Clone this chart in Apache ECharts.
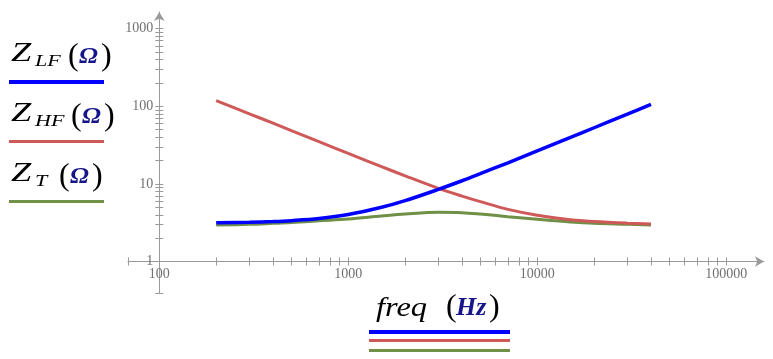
<!DOCTYPE html>
<html><head><meta charset="utf-8">
<script src="https://cdn.jsdelivr.net/npm/echarts@6/dist/echarts.min.js"></script>
<style>html,body{margin:0;padding:0;background:#fff}#c{width:773px;height:359px}</style>
</head><body><div id="c"></div>
<script>
// ---- data ----
const freq = [200, 300, 400, 500, 700, 1000, 1500, 2000, 3000, 4000, 5000, 7000, 10000, 15000, 20000, 30000, 40000];
const zLF  = [3.15, 3.2, 3.27, 3.36, 3.58, 4.03, 4.99, 6.08, 8.5, 10.98, 13.55, 18.72, 26.6, 39.7, 52.9, 79.2, 105.6];
const zHF  = [118, 80, 60.5, 48.6, 35, 24.7, 16.7, 12.7, 8.75, 6.95, 5.9, 4.7, 3.95, 3.45, 3.27, 3.12, 3.05];
const zT   = [2.95, 3.01, 3.1, 3.18, 3.35, 3.53, 3.86, 4.09, 4.3, 4.26, 4.09, 3.78, 3.5, 3.23, 3.1, 3.01, 2.95];
const xTickValues = [100, 200, 300, 400, 500, 600, 700, 800, 900, 1000, 2000, 3000, 4000, 5000, 6000, 7000, 8000, 9000, 10000, 20000, 30000, 40000, 50000, 60000, 70000, 80000, 90000, 100000];
const yTickValues = [1, 2, 3, 4, 5, 6, 7, 8, 9, 10, 20, 30, 40, 50, 60, 70, 80, 90, 100, 200, 300, 400, 500, 600, 700, 800, 900, 1000];
const xLabelValues = [100, 1000, 10000, 100000];
const yLabelValues = [1, 10, 100, 1000];
const xMin = 68.31, xMax = 158489;
const yMin = 0.3926, yMax = 1641;

const AX = '#9a9a9a';
const labelStyle = {fontFamily: 'Liberation Serif', fontSize: 14, color: '#707070'};
const fmt = v => String(Math.round(v));

function xAx(primary) {
  return {
    type: 'log', logBase: 10, gridIndex: 0, position: 'bottom', offset: -31.5,
    min: xMin, max: xMax,
    axisLine: primary ? {show: true, onZero: false, symbol: ['none', 'arrow'], symbolSize: [8, 9], lineStyle: {color: AX, width: 1}} : {show: false, onZero: false},
    axisTick: {show: true, inside: !primary, length: 4, customValues: [xMin].concat(xTickValues), lineStyle: {color: AX, width: 1}},
    minorTick: {show: false},
    axisLabel: primary ? Object.assign({show: true, customValues: xLabelValues, formatter: fmt, margin: 6}, labelStyle) : {show: false},
    splitLine: {show: false}
  };
}
function yAx(primary) {
  return {
    type: 'log', logBase: 10, gridIndex: 0, position: 'left', offset: -31.3,
    min: yMin, max: yMax,
    axisLine: primary ? {show: true, onZero: false, symbol: ['none', 'arrow'], symbolSize: [8, 9], lineStyle: {color: AX, width: 1}} : {show: false, onZero: false},
    axisTick: {show: true, inside: !primary, length: 4, customValues: [yMin].concat(yTickValues), lineStyle: {color: AX, width: 1}},
    minorTick: {show: false},
    axisLabel: primary ? Object.assign({show: true, customValues: yLabelValues, formatter: fmt, margin: 6}, labelStyle) : {show: false},
    splitLine: {show: false}
  };
}

const NAVY = '#16168a';
const BLUE = '#0000ff', RED = '#cf5858', GREEN = '#6f9046';
function T(x, y, s, font, fill, sx) {
  return {type: 'text', x: x, y: y, scaleX: sx || 1, silent: true,
    style: {text: s, font: font, fill: fill || '#000', verticalAlign: 'middle', textVerticalAlign: 'middle'}};
}
const MAIN = 'italic 28px "Liberation Serif"';
const SUB = 'italic 17px "Liberation Serif"';
const PAR = '32px "Liberation Serif"';
const UNIT = 'italic bold 23px "Liberation Serif"';
const legendNames = ['LF', 'HF', 'T'];
const legendColors = [BLUE, RED, GREEN];
const parX = [68, 71, 59];
const lineH = [4, 3, 3];
const graphics = [];
legendNames.forEach((n, k) => {
  const dy = 60 * k;
  graphics.push(T(11, 54 + dy, 'Z', MAIN, '#000', 1.3));
  graphics.push(T(35, 62 + dy, n, SUB, '#000', 1.3));
  graphics.push(T(parX[k], 57 + dy, '(', PAR));
  graphics.push(T(parX[k] + 11, 57 + dy, 'Ω', UNIT, NAVY, 1.1));
  graphics.push(T(parX[k] + 33, 57 + dy, ')', PAR));
  graphics.push({type: 'rect', silent: true, shape: {x: 9, y: 80 + dy, width: 95, height: lineH[k]}, style: {fill: legendColors[k]}});
});
graphics.push(T(376, 308.5, 'freq', MAIN, '#000', 1.16));
graphics.push(T(446, 308, '(', PAR));
graphics.push(T(456, 308.5, 'Hz', 'italic bold 26px "Liberation Serif"', NAVY));
graphics.push(T(489, 308, ')', PAR));
graphics.push({type: 'rect', silent: true, shape: {x: 369, y: 330, width: 141, height: 4}, style: {fill: BLUE}});
graphics.push({type: 'rect', silent: true, shape: {x: 369, y: 339, width: 141, height: 3}, style: {fill: RED}});
graphics.push({type: 'rect', silent: true, shape: {x: 369, y: 349, width: 141, height: 3}, style: {fill: GREEN}});

function pts(vals) { return freq.map((f, i) => [f, vals[i]]); }
function ser(name, vals, color, w) {
  return {name: name, type: 'line', data: pts(vals), showSymbol: false, smooth: 0.35,
    lineStyle: {color: color, width: w}, itemStyle: {color: color}, clip: false};
}

const chart = echarts.init(document.getElementById('c'), null, {renderer: 'canvas'});
chart.setOption({
  animation: false,
  backgroundColor: '#fff',
  grid: {left: 128, right: 9, top: 12, bottom: 66, containLabel: false, outerBoundsMode: 'none'},
  xAxis: [xAx(true), xAx(false)],
  yAxis: [yAx(true), yAx(false)],
  series: [
    ser('Z_T', zT, GREEN, 3),
    ser('Z_HF', zHF, RED, 3),
    ser('Z_LF', zLF, BLUE, 3.5)
  ],
  graphic: graphics
});
</script></body></html>
